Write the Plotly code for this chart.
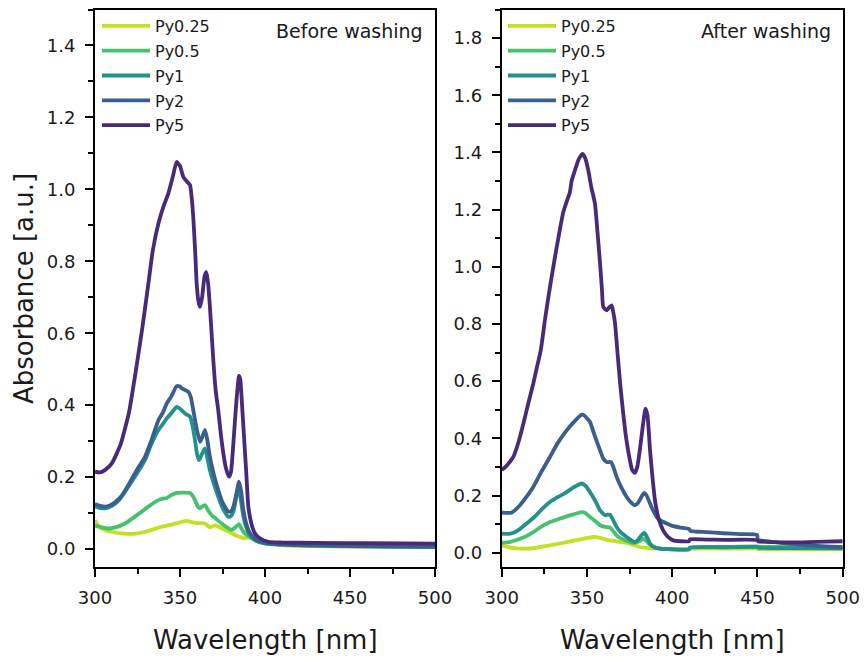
import plotly.graph_objects as go

# ---------------- data ----------------
series_names = ["Py0.25", "Py0.5", "Py1", "Py2", "Py5"]
series_colors = ["#c3e022", "#48c16e", "#23908c", "#3a5f8d", "#472a7a"]

# Before washing
b_py025_x = [300, 302, 303.9, 306, 309.8, 314, 319.6, 324, 329.4, 334, 339.2, 344, 349, 353.9, 356, 358.8, 362, 364.7, 366, 367.6, 369, 370.6, 373, 376.5, 380, 382.4, 385, 387.3, 389, 390.2, 393, 396, 400, 410, 430, 460, 500]
b_py025_y = [0.080, 0.065, 0.057, 0.052, 0.048, 0.044, 0.042, 0.043, 0.048, 0.054, 0.062, 0.067, 0.073, 0.078, 0.076, 0.073, 0.072, 0.071, 0.066, 0.060, 0.063, 0.066, 0.061, 0.053, 0.045, 0.039, 0.034, 0.030, 0.031, 0.033, 0.028, 0.020, 0.015, 0.011, 0.008, 0.006, 0.005]

b_py05_x = [300, 304, 307.8, 312, 317.6, 322, 327.5, 332, 337.3, 340, 342.2, 345, 348, 352, 355.9, 357.5, 358.8, 360.5, 361.8, 363, 364.7, 366.5, 368.6, 371, 374.5, 377, 380.4, 382.5, 384.7, 386, 387.3, 390, 392.2, 396, 400, 410, 430, 460, 500]
b_py05_y = [0.065, 0.060, 0.057, 0.060, 0.071, 0.085, 0.104, 0.120, 0.136, 0.140, 0.142, 0.150, 0.156, 0.157, 0.156, 0.148, 0.136, 0.118, 0.113, 0.118, 0.122, 0.108, 0.094, 0.085, 0.071, 0.062, 0.053, 0.060, 0.069, 0.058, 0.048, 0.036, 0.030, 0.022, 0.017, 0.012, 0.009, 0.007, 0.006]

b_py1_x = [300, 303, 306, 310, 314, 319.6, 324, 329.4, 333, 337.3, 340, 342.2, 345, 348, 350, 352.9, 355.9, 357.5, 358.8, 360, 361.2, 363, 364.7, 366, 367.6, 370, 372.5, 375, 378.4, 380, 381.4, 383, 384.7, 386, 387.3, 389, 391, 395, 400, 410, 430, 460, 500]
b_py1_y = [0.118, 0.114, 0.113, 0.120, 0.135, 0.173, 0.205, 0.247, 0.290, 0.331, 0.348, 0.363, 0.378, 0.395, 0.390, 0.377, 0.368, 0.340, 0.303, 0.265, 0.247, 0.265, 0.280, 0.255, 0.219, 0.180, 0.145, 0.115, 0.090, 0.092, 0.104, 0.140, 0.173, 0.130, 0.090, 0.060, 0.039, 0.022, 0.016, 0.012, 0.010, 0.008, 0.006]

b_py2_x = [300, 303, 306, 309, 312, 316, 319.6, 324, 329.4, 333, 337.3, 340, 342.2, 345, 348, 350, 351, 354.9, 356.5, 357.8, 360, 361.8, 363, 364.7, 366, 367.6, 370, 372.5, 375, 378.4, 380, 381.4, 383, 384.7, 386, 387.3, 389, 391.2, 395, 400, 410, 430, 460, 500]
b_py2_y = [0.125, 0.120, 0.118, 0.122, 0.131, 0.150, 0.178, 0.215, 0.256, 0.300, 0.358, 0.380, 0.405, 0.425, 0.453, 0.452, 0.447, 0.437, 0.420, 0.386, 0.330, 0.298, 0.310, 0.331, 0.305, 0.256, 0.205, 0.164, 0.130, 0.104, 0.105, 0.118, 0.150, 0.187, 0.160, 0.108, 0.070, 0.044, 0.025, 0.018, 0.013, 0.010, 0.008, 0.006]

b_py5_x = [300, 303, 306, 310, 315, 320, 324.5, 328, 331.4, 334, 337.3, 340.2, 343.1, 346, 348, 350, 352, 354, 355.9, 357, 357.8, 359, 359.8, 361, 361.8, 363, 364.5, 365.5, 366.5, 367.6, 369.6, 371, 372.5, 374, 375.5, 377, 378.8, 380, 381.4, 383, 384.7, 385.5, 386.5, 387.3, 389, 390.2, 392, 394, 397, 402, 410, 430, 460, 500]
b_py5_y = [0.215, 0.213, 0.220, 0.239, 0.290, 0.380, 0.510, 0.620, 0.738, 0.830, 0.905, 0.951, 0.988, 1.040, 1.076, 1.065, 1.034, 1.022, 1.012, 0.970, 0.923, 0.820, 0.738, 0.685, 0.673, 0.700, 0.760, 0.770, 0.740, 0.673, 0.525, 0.440, 0.386, 0.320, 0.266, 0.225, 0.201, 0.215, 0.294, 0.400, 0.481, 0.470, 0.400, 0.340, 0.210, 0.118, 0.070, 0.044, 0.030, 0.020, 0.018, 0.017, 0.016, 0.015]

# After washing
a_py025_x = [300, 303, 308, 314.6, 320, 328.3, 333, 338.1, 343, 348, 353.7, 357, 360, 363.5, 367, 370, 373.3, 377, 381, 385, 390, 400, 409.8, 410.5, 430, 449.8, 450.3, 500]
a_py025_y = [0.026, 0.021, 0.016, 0.014, 0.017, 0.026, 0.031, 0.037, 0.043, 0.049, 0.055, 0.053, 0.048, 0.043, 0.040, 0.037, 0.034, 0.028, 0.020, 0.017, 0.015, 0.012, 0.012, 0.014, 0.014, 0.015, 0.013, 0.013]

a_py05_x = [300, 305, 310.7, 314.5, 318.5, 323, 328.3, 333, 338.1, 342, 346.9, 349, 351.8, 355, 357.7, 360.6, 363.5, 365.5, 367.4, 370, 373.3, 376, 378.1, 380, 383.5, 385, 388.8, 393, 400, 409.8, 410.5, 430, 449.8, 450.3, 470, 500]
a_py05_y = [0.034, 0.038, 0.049, 0.058, 0.072, 0.090, 0.107, 0.117, 0.127, 0.134, 0.142, 0.139, 0.125, 0.110, 0.096, 0.090, 0.088, 0.075, 0.061, 0.050, 0.041, 0.036, 0.034, 0.038, 0.049, 0.040, 0.020, 0.014, 0.012, 0.012, 0.018, 0.020, 0.022, 0.021, 0.020, 0.019]

a_py1_x = [300, 303, 306, 310, 314.6, 320, 324, 328.3, 333, 338.1, 342, 346.9, 349, 351.8, 355, 357.7, 360.6, 362, 363.5, 365.5, 367.4, 370, 373.3, 376, 378.1, 380, 381.5, 383.5, 385, 387, 390, 392.9, 400, 409.8, 410.5, 430, 449.8, 450.3, 470, 500]
a_py1_y = [0.067, 0.066, 0.068, 0.080, 0.102, 0.130, 0.155, 0.177, 0.195, 0.212, 0.228, 0.242, 0.235, 0.212, 0.180, 0.148, 0.131, 0.133, 0.133, 0.112, 0.090, 0.070, 0.055, 0.043, 0.037, 0.045, 0.058, 0.069, 0.058, 0.032, 0.018, 0.014, 0.012, 0.012, 0.018, 0.019, 0.020, 0.018, 0.016, 0.015]

a_py2_x = [300, 303, 306, 310.7, 314.5, 318.5, 323, 328.3, 333, 338.1, 342, 346.9, 348.5, 350, 351.8, 354.5, 357.7, 359.5, 361.6, 364.1, 365.5, 367.4, 370, 373.3, 375.5, 378.1, 380, 381.5, 383.5, 385, 387, 389, 390.9, 393, 396.8, 400, 405, 409.8, 410.8, 420, 430, 440, 449.8, 450.3, 460, 470, 480, 490, 500]
a_py2_y = [0.140, 0.139, 0.141, 0.166, 0.195, 0.230, 0.280, 0.335, 0.385, 0.428, 0.455, 0.483, 0.480, 0.470, 0.457, 0.410, 0.358, 0.330, 0.317, 0.317, 0.300, 0.265, 0.230, 0.195, 0.178, 0.166, 0.175, 0.190, 0.209, 0.200, 0.172, 0.145, 0.125, 0.113, 0.102, 0.094, 0.088, 0.083, 0.076, 0.072, 0.068, 0.065, 0.062, 0.046, 0.037, 0.031, 0.026, 0.022, 0.019]

a_py5_x = [300, 301, 303, 306.8, 310, 312.7, 315.5, 318.5, 320.5, 322.9, 325.5, 328.3, 332, 336.1, 338.5, 340, 341, 342, 343.9, 345.5, 347.5, 349, 350.8, 352.5, 354.7, 356.2, 357.7, 358.8, 359.6, 361.6, 363, 364.5, 365.5, 366.5, 367.8, 369.5, 371.3, 373, 375.2, 376.5, 378.1, 379.5, 381, 382.7, 384.3, 385.5, 387, 388.5, 389.9, 392, 394.7, 397.5, 400.6, 405, 409.8, 410.5, 420, 430, 449.8, 450.3, 467, 480, 490, 500]
a_py5_y = [0.290, 0.294, 0.305, 0.335, 0.390, 0.451, 0.520, 0.591, 0.645, 0.708, 0.820, 0.929, 1.060, 1.191, 1.235, 1.261, 1.300, 1.320, 1.355, 1.380, 1.395, 1.380, 1.337, 1.280, 1.221, 1.120, 1.011, 0.920, 0.859, 0.848, 0.858, 0.865, 0.840, 0.801, 0.708, 0.590, 0.486, 0.400, 0.323, 0.290, 0.279, 0.300, 0.358, 0.440, 0.504, 0.480, 0.358, 0.260, 0.183, 0.120, 0.078, 0.055, 0.043, 0.040, 0.040, 0.047, 0.046, 0.045, 0.044, 0.040, 0.036, 0.037, 0.039, 0.040]

before_x = [b_py025_x, b_py05_x, b_py1_x, b_py2_x, b_py5_x]
before_y = [b_py025_y, b_py05_y, b_py1_y, b_py2_y, b_py5_y]
after_x = [a_py025_x, a_py05_x, a_py1_x, a_py2_x, a_py5_x]
after_y = [a_py025_y, a_py05_y, a_py1_y, a_py2_y, a_py5_y]

x_ticks = [300, 350, 400, 450, 500]

# ---------------- figure ----------------
W, H = 865, 657
FONT = "DejaVu Sans"
fig = go.Figure()

for i, name in enumerate(series_names):
    fig.add_trace(go.Scatter(x=before_x[i], y=before_y[i], mode="lines", name=name,
                             line=dict(color=series_colors[i], width=3.8, shape="spline", smoothing=0.5),
                             xaxis="x", yaxis="y", legend="legend", legendgroup="b" + name))
for i, name in enumerate(series_names):
    fig.add_trace(go.Scatter(x=after_x[i], y=after_y[i], mode="lines", name=name,
                             line=dict(color=series_colors[i], width=3.8, shape="spline", smoothing=0.5),
                             xaxis="x2", yaxis="y2", legend="legend2", legendgroup="a" + name))

axis_common = dict(showline=True, linecolor="black", linewidth=2, mirror=True,
                   ticks="outside", ticklen=8, tickwidth=2, tickcolor="black",
                   showgrid=False, zeroline=False, automargin=False,
                   tickfont=dict(family=FONT, size=18, color="#1a1a1a"))

ydom = [90 / H, 1 - 9.5 / H]
legend_common = dict(xanchor="left", yanchor="top", bgcolor="rgba(0,0,0,0)",
                     font=dict(family=FONT, size=16, color="#1a1a1a"),
                     tracegroupgap=1, itemwidth=48)
fig.update_layout(
    width=W, height=H,
    margin=dict(l=0, r=0, t=0, b=0, autoexpand=False),
    paper_bgcolor="white", plot_bgcolor="white",
    font=dict(family=FONT, color="#1a1a1a"),
    xaxis=dict(domain=[95 / W, 435 / W], range=[300, 500], tickvals=x_ticks, anchor="y",
               minor=dict(ticks="outside", ticklen=5, tickwidth=1.5, tickcolor="black", dtick=25),
               ticklabelstandoff=5, **axis_common),
    yaxis=dict(domain=ydom, range=[-0.05, 1.5], tick0=0, dtick=0.2, tickformat=".1f", anchor="x",
               minor=dict(ticks="outside", ticklen=5, tickwidth=1.5, tickcolor="black", dtick=0.1),
               ticklabelstandoff=6, **axis_common),
    xaxis2=dict(domain=[501.7 / W, 842.7 / W], range=[300, 500], tickvals=x_ticks, anchor="y2",
                minor=dict(ticks="outside", ticklen=5, tickwidth=1.5, tickcolor="black", dtick=25),
                ticklabelstandoff=5, **axis_common),
    yaxis2=dict(domain=ydom, range=[-0.05, 1.9], tick0=0, dtick=0.2, tickformat=".1f", anchor="x2",
                minor=dict(ticks="outside", ticklen=5, tickwidth=1.5, tickcolor="black", dtick=0.1),
                ticklabelstandoff=6, **axis_common),
    legend=dict(x=97 / W, y=1 - 9 / H, **legend_common),
    legend2=dict(x=503 / W, y=1 - 9 / H, **legend_common),
    showlegend=True,
)

annots = [
    dict(text="Before washing", x=425 / W, y=1 - 31 / H, xanchor="right", yanchor="middle",
         font=dict(size=19)),
    dict(text="After washing", x=833 / W, y=1 - 31 / H, xanchor="right", yanchor="middle",
         font=dict(size=19)),
    dict(text="Absorbance [a.u.]", x=24 / W, y=1 - 289 / H, xanchor="center", yanchor="middle",
         textangle=-90, font=dict(size=26)),
    dict(text="Wavelength [nm]", x=265 / W, y=1 - 640 / H, xanchor="center", yanchor="middle",
         font=dict(size=26)),
    dict(text="Wavelength [nm]", x=672 / W, y=1 - 640 / H, xanchor="center", yanchor="middle",
         font=dict(size=26)),
]
for a in annots:
    a.update(xref="paper", yref="paper", showarrow=False)
    a["font"].update(family=FONT, color="#1a1a1a")
    fig.add_annotation(**a)

fig.write_html("out.html")
